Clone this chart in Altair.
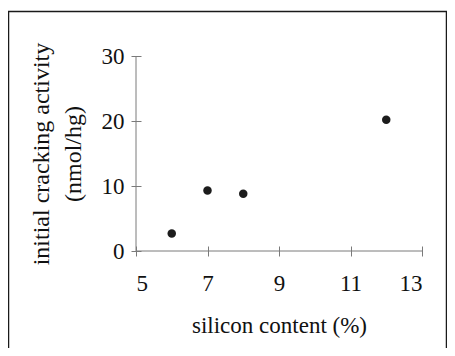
import altair as alt
import pandas as pd

# data
silicon = [6, 7, 8, 12]
activity = [2.7, 9.3, 8.8, 20.2]
x_ticks = [5, 7, 9, 11, 13]
y_ticks = [0, 10, 20, 30]
x_title = "silicon content (%)"
y_title = ["initial cracking activity", "(nmol/hg)"]

df = pd.DataFrame({"silicon": silicon, "activity": activity})

FONT = "Liberation Serif"
W, H = 286, 195
AX = "#7a7a7a"

xscale = alt.Scale(domain=[min(x_ticks), max(x_ticks)], nice=False, zero=False)
yscale = alt.Scale(domain=[min(y_ticks), max(y_ticks)], nice=False, zero=False)

points = alt.Chart(df).mark_circle(size=72, color="#1c1c1c", opacity=1).encode(
    x=alt.X("silicon:Q", scale=xscale,
            axis=alt.Axis(values=x_ticks, title=x_title, offset=-5, domain=False,
                          tickSize=10, tickColor=AX, labelPadding=16, grid=False,
                          titlePadding=19, format="d", titleFontSize=23)),
    y=alt.Y("activity:Q", scale=yscale,
            axis=alt.Axis(values=y_ticks, title=y_title, offset=-5, domain=False,
                          tickSize=10, tickColor=AX, labelPadding=7, grid=False,
                          titlePadding=16, titleLineHeight=32, format="d",
                          titleFontSize=24)),
)

one = alt.Data(values=[{}])

xdomain = alt.Chart(one).mark_rule(color=AX, strokeWidth=1).encode(
    x=alt.XDatum(min(x_ticks)), x2=alt.X2Datum(max(x_ticks)), y=alt.YDatum(min(y_ticks))
)
ydomain = alt.Chart(one).mark_rule(color=AX, strokeWidth=1).encode(
    x=alt.XDatum(min(x_ticks)), y=alt.YDatum(min(y_ticks)), y2=alt.Y2Datum(max(y_ticks))
)

frame = alt.Chart(one).mark_rect(fillOpacity=0, stroke="#1a1a1a", strokeWidth=1.5).encode(
    x=alt.value(-127.5), x2=alt.value(310.5), y=alt.value(-44.5), y2=alt.value(300)
)

chart = alt.layer(frame, xdomain, ydomain, points).properties(
    width=W, height=H,
    autosize=alt.AutoSizeParams(type="none"),
    padding={"left": 128, "top": 48, "right": 25, "bottom": 97},
).configure_view(stroke=None).configure_axis(
    labelFont=FONT, titleFont=FONT, labelFontSize=23, titleFontSize=23,
    titleFontWeight="normal", labelColor="#111111", titleColor="#111111",
)

chart.save("out.html", embed_options={"renderer": "svg", "actions": False})
